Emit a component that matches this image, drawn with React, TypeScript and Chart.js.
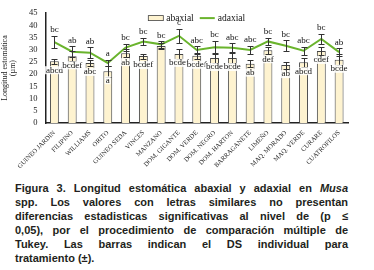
import React, { useEffect, useRef } from "react";
import { Chart, registerables } from "chart.js";

Chart.register(...registerables);

const categories = [
  "GUINEO JARDIN", "FILIPINO", "WILLIAMS", "ORITO", "GUINEO SEDA", "VINCES", "MANZANO",
  "DOM. GIGANTE", "DOM. VERDE", "DOM. NEGRO", "DOM. HARTON", "BARRAGANETE", "LIMEÑO",
  "MAQ. MORADO", "MAQ. VERDE", "CURARE", "CUATROFILOS",
];
const abaxial = [25.3, 27.3, 24.6, 21.2, 28.6, 27.4, 31.5, 28.3, 27.5, 26.6, 26.6, 24.3, 29.8, 23.7, 24.9, 29.5, 25.9];
const abaxialErr = [1.1, 2.0, 1.2, 2.2, 1.5, 1.0, 1.2, 2.2, 1.2, 2.2, 2.0, 1.5, 1.5, 1.4, 1.8, 1.8, 2.2];
const adaxial = [33.1, 29.2, 28.8, 24.6, 30.9, 33.4, 32.2, 35.7, 29.9, 31.0, 30.8, 29.9, 33.4, 31.6, 29.6, 34.4, 29.0];
const adaxialErr = [2.5, 2.2, 2.2, 1.2, 1.6, 1.5, 1.3, 2.8, 1.5, 2.6, 1.8, 1.8, 1.4, 2.2, 1.7, 2.0, 1.6];
const abaxialLetters = ["abcd", "bcdef", "abc", "a", "ab", "bcdef", "", "bcdef", "bcdef", "bcde", "bcde", "ab", "def", "ab", "abcd", "cdef", "bcde"];
const adaxialLetters = ["bc", "ab", "ab", "a", "bc", "bc", "bc", "c", "abc", "bc", "abc", "abc", "bc", "bc", "abc", "bc", "ab"];
const yTicks = [0, 5, 10, 15, 20, 25, 30, 35, 40, 45];
const seriesNames = ["abaxial", "adaxial"];

const SERIF = "'Liberation Serif', 'Times New Roman', serif";
const BAR_FILL = "#FEF3D0";
const BAR_BORDER = "#444";
const GREEN = "#6AB42D";

const annotPlugin = {
  id: "annot",
  afterDatasetsDraw(chart: any) {
    const ctx = chart.ctx;
    const xs = chart.scales.x;
    const ys = chart.scales.y;
    ctx.save();
    ctx.strokeStyle = "#333";
    ctx.lineWidth = 1;
    const cap = 3;
    const drawErr = (x: number, v: number, e: number) => {
      const t = Math.round(ys.getPixelForValue(v + e)) + 0.5;
      const b = Math.round(ys.getPixelForValue(v - e)) + 0.5;
      const xx = Math.round(x) + 0.5;
      ctx.beginPath();
      ctx.moveTo(xx, t); ctx.lineTo(xx, b);
      ctx.moveTo(xx - cap, t); ctx.lineTo(xx + cap, t);
      ctx.moveTo(xx - cap, b); ctx.lineTo(xx + cap, b);
      ctx.stroke();
    };
    categories.forEach((_, i) => {
      const x = xs.getPixelForValue(i);
      drawErr(x, abaxial[i], abaxialErr[i]);
      drawErr(x, adaxial[i], adaxialErr[i]);
    });
    ctx.font = `9px ${SERIF}`;
    ctx.textAlign = "center";
    ctx.textBaseline = "middle";
    categories.forEach((_, i) => {
      const x = xs.getPixelForValue(i);
      const l2 = adaxialLetters[i];
      if (l2) {
        ctx.fillStyle = "#111";
        ctx.fillText(l2, x, ys.getPixelForValue(adaxial[i] + adaxialErr[i]) - 6);
      }
      const l1 = abaxialLetters[i];
      if (l1) {
        const yy = ys.getPixelForValue(abaxial[i]) + 9;
        const w = ctx.measureText(l1).width;
        ctx.fillStyle = "rgba(255,255,255,0.85)";
        ctx.fillRect(x - w / 2 - 1, yy - 4, w + 2, 8);
        ctx.fillStyle = "#111";
        ctx.fillText(l1, x, yy);
      }
    });

    // legend inside plot area
    const area = chart.chartArea;
    ctx.font = `9.5px ${SERIF}`;
    ctx.textAlign = "left";
    const sw = 15, gap = 3, between = 6;
    const w1 = ctx.measureText(seriesNames[0]).width;
    const w2 = ctx.measureText(seriesNames[1]).width;
    const total = sw + gap + w1 + between + sw + gap + w2;
    let lx = (area.left + area.right) / 2 - total / 2;
    const ly = area.top + 5;
    ctx.fillStyle = BAR_FILL;
    ctx.fillRect(lx, ly - 2.5, sw, 5);
    ctx.strokeStyle = BAR_BORDER;
    ctx.lineWidth = 0.8;
    ctx.strokeRect(lx, ly - 2.5, sw, 5);
    lx += sw + gap;
    ctx.fillStyle = "#111";
    ctx.fillText(seriesNames[0], lx, ly);
    lx += w1 + between;
    ctx.strokeStyle = GREEN;
    ctx.lineWidth = 2;
    ctx.beginPath();
    ctx.moveTo(lx, ly); ctx.lineTo(lx + sw, ly);
    ctx.stroke();
    lx += sw + gap;
    ctx.fillText(seriesNames[1], lx, ly);
    ctx.restore();
  },
};

export default function App() {
  const ref = useRef<HTMLCanvasElement>(null);
  useEffect(() => {
    document.body.style.margin = "0";
    const chart = new Chart(ref.current as HTMLCanvasElement, {
      type: "bar",
      data: {
        labels: categories,
        datasets: [
          {
            type: "bar",
            label: seriesNames[0],
            data: abaxial,
            backgroundColor: BAR_FILL,
            borderColor: BAR_BORDER,
            borderWidth: 1,
            barPercentage: 0.5,
            categoryPercentage: 1,
            order: 1,
          },
          {
            type: "line",
            label: seriesNames[1],
            data: adaxial,
            borderColor: GREEN,
            backgroundColor: GREEN,
            borderWidth: 2,
            pointRadius: 0,
            tension: 0,
            order: 0,
          } as any,
        ],
      },
      options: {
        responsive: false,
        animation: false,
        layout: { padding: { top: 0, right: 26, left: 1, bottom: 2 } },
        plugins: {
          tooltip: { enabled: false },
          legend: { display: false },
        },
        scales: {
          x: {
            grid: { display: false, drawTicks: false },
            border: { color: "#222", width: 1.5 },
            afterFit: (scale: any) => {
              scale.height = 53;
            },
            ticks: {
              autoSkip: false,
              minRotation: 45,
              maxRotation: 45,
              padding: 6,
              color: "#222",
              font: { family: SERIF, size: 6.6 },
            },
          },
          y: {
            min: 0,
            max: 45,
            afterBuildTicks: (axis: any) => {
              axis.ticks = yTicks.map((v) => ({ value: v }));
            },
            grid: { display: false, drawTicks: false },
            border: { color: "#222", width: 1.5 },
            ticks: {
              autoSkip: false,
              padding: 8,
              color: "#222",
              font: { family: SERIF, size: 8.5 },
            },
            title: {
              display: true,
              text: ["Longitud estomática", "(µm)"],
              color: "#222",
              padding: { top: 0, bottom: 4 },
              font: { family: SERIF, size: 8, lineHeight: 1.0 },
            },
          },
        },
      },
      plugins: [annotPlugin],
    });
    return () => chart.destroy();
  }, []);

  const lineStyle: React.CSSProperties = {
    textAlign: "justify",
    textAlignLast: "justify" as any,
    height: 14,
    lineHeight: "14px",
  };
  return (
    <div style={{ width: 374, background: "#fff" }}>
      <canvas ref={ref} width={374} height={178} style={{ display: "block" }} />
      <div
        style={{
          marginLeft: 15,
          width: 333,
          marginTop: 3,
          fontFamily: "'Liberation Sans', Arial, sans-serif",
          fontWeight: "bold",
          fontSize: 11,
          color: "#231F20",
        }}
      >
        <div style={lineStyle}>
          Figura 3. Longitud estomática abaxial y adaxial en <i>Musa</i>
        </div>
        <div style={lineStyle}>spp. Los valores con letras similares no presentan</div>
        <div style={lineStyle}>diferencias estadisticas significativas al nivel de (p ≤</div>
        <div style={lineStyle}>0,05), por el procedimiento de comparación múltiple de</div>
        <div style={lineStyle}>Tukey. Las barras indican el DS individual para</div>
        <div style={{ height: 14, lineHeight: "14px" }}>tratamiento (±).</div>
      </div>
    </div>
  );
}
